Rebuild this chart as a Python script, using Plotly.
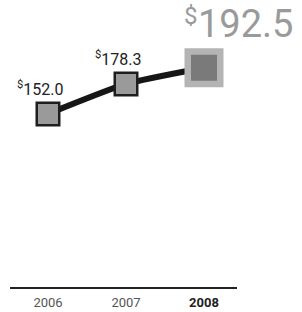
import plotly.graph_objects as go

years = [2006, 2007, 2008]
values = [152.0, 178.3, 192.5]
labels = ["152.0", "178.3", "192.5"]
tick_text = ["<span style='color:#555'>2006</span>",
             "<span style='color:#555'>2007</span>",
             "<b>2008</b>"]

FONT = "Roboto, sans-serif"

fig = go.Figure()
fig.add_trace(go.Scatter(
    x=years, y=values, mode="lines",
    line=dict(color="#161616", width=6, shape="spline", smoothing=0.5),
    hoverinfo="skip", showlegend=False))
fig.add_trace(go.Scatter(
    x=years[:2], y=values[:2], mode="markers",
    marker=dict(symbol="square", size=22.5, color="#9a9a9a",
                line=dict(color="#1e1e1e", width=2.5)),
    hoverinfo="skip", showlegend=False))
fig.add_trace(go.Scatter(
    x=years[2:], y=values[2:], mode="markers",
    marker=dict(symbol="square", size=32.5, color="#7a7a7a",
                line=dict(color="#b4b4b4", width=6.5)),
    hoverinfo="skip", showlegend=False))

fig.add_annotation(x=years[0], y=values[0], text="<sup>$</sup>" + labels[0],
                   showarrow=False, xshift=-8, yshift=25,
                   font=dict(family=FONT, size=16, color="#222"))
fig.add_annotation(x=years[1], y=values[1], text="<sup>$</sup>" + labels[1],
                   showarrow=False, xshift=-8, yshift=25,
                   font=dict(family=FONT, size=16, color="#222"))
# big highlighted value: digits and raised dollar sign
fig.add_annotation(x=years[2], y=values[2], text=labels[2],
                   showarrow=False, xshift=41, yshift=44,
                   font=dict(family=FONT, size=38, color="#9a9a9a"))
fig.add_annotation(x=years[2], y=values[2], text="$",
                   showarrow=False, xshift=-13, yshift=52,
                   font=dict(family=FONT, size=24, color="#9a9a9a"))

fig.update_layout(
    width=302, height=312,
    margin=dict(l=10, r=65, t=0, b=25),
    paper_bgcolor="white", plot_bgcolor="white",
    hovermode=False,
    xaxis=dict(range=[2005.513, 2008.423], tickvals=years, ticktext=tick_text,
               showgrid=False, zeroline=False, showline=True,
               linecolor="#222", linewidth=1.5, ticks="", ticklabelstandoff=3,
               tickfont=dict(family="Roboto", size=13, color="#222")),
    yaxis=dict(range=[0, 252], visible=False),
)

fig.write_html("out.html", config={"displayModeBar": False},
               post_script="document.body.style.margin='0';document.body.style.overflow='hidden';")
